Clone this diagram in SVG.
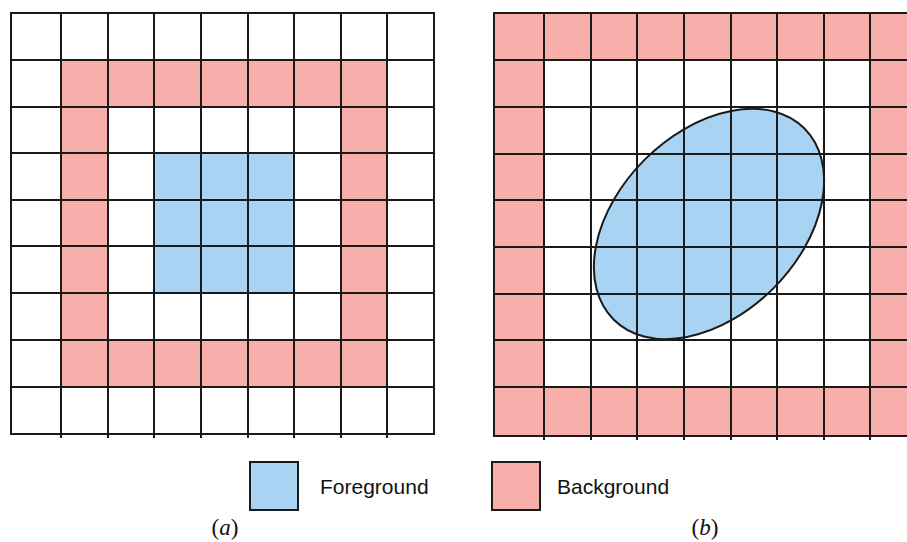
<svg xmlns="http://www.w3.org/2000/svg" width="907" height="542" viewBox="0 0 907 542">
<style>
.bg{fill:#F8AEAA}
.fg{fill:#A9D3F2}
.ln{stroke:#1a1a1a;stroke-width:2;fill:none;stroke-linecap:square}
.lbl{font-family:"Liberation Sans",Arial,sans-serif;font-size:21px;fill:#111}
.cap{font-family:"Liberation Serif","Times New Roman",serif;font-size:23px;fill:#111}
</style>
<rect width="907" height="542" fill="#fff"/>
<g id="grid-a">
<rect x="61" y="60" width="326" height="47" class="bg"/>
<rect x="61" y="340" width="326" height="47" class="bg"/>
<rect x="61" y="60" width="47" height="327" class="bg"/>
<rect x="341" y="60" width="46" height="327" class="bg"/>
<rect x="154" y="153" width="140" height="140" class="fg"/>
<path class="ln" d="M11 13V434M61 13V437M108 13V437M154 13V437M201 13V437M248 13V437M294 13V437M341 13V437M387 13V437M434 13V434"/>
<path class="ln" d="M11 13H434M11 60H434M11 107H434M11 153H434M11 200H434M11 246H434M11 293H434M11 340H434M11 387H434M11 434H434"/>
</g>
<g id="grid-b">
<rect x="494" y="13" width="413" height="47" class="bg"/>
<rect x="494" y="387" width="413" height="49" class="bg"/>
<rect x="494" y="13" width="50" height="423" class="bg"/>
<rect x="870" y="13" width="37" height="423" class="bg"/>
<ellipse cx="709" cy="224" rx="135" ry="91" transform="rotate(-45 709 224)" class="fg"/>
<path class="ln" d="M494 13V436M544 13V439M591 13V439M637 13V439M684 13V439M731 13V439M777 13V439M824 13V439M870 13V439"/>
<path class="ln" d="M494 13H910M494 60H910M494 107H910M494 154H910M494 200H910M494 247H910M494 294H910M494 340H910M494 387H910M494 436H910"/>
<ellipse cx="709" cy="224" rx="135" ry="91" transform="rotate(-45 709 224)" class="ln"/>
</g>
<g id="legend-foreground">
<rect x="250" y="462" width="48" height="48" class="fg"/>
<rect x="250" y="462" width="48" height="48" class="ln"/>
<text x="320" y="494" class="lbl">Foreground</text>
</g>
<g id="legend-background">
<rect x="492" y="462" width="48" height="48" class="bg"/>
<rect x="492" y="462" width="48" height="48" class="ln"/>
<text x="557" y="494" class="lbl">Background</text>
</g>
<g id="captions">
<text x="225" y="535" text-anchor="middle" class="cap">(<tspan font-style="italic">a</tspan>)</text>
<text x="705" y="535" text-anchor="middle" class="cap">(<tspan font-style="italic">b</tspan>)</text>
</g>
</svg>
